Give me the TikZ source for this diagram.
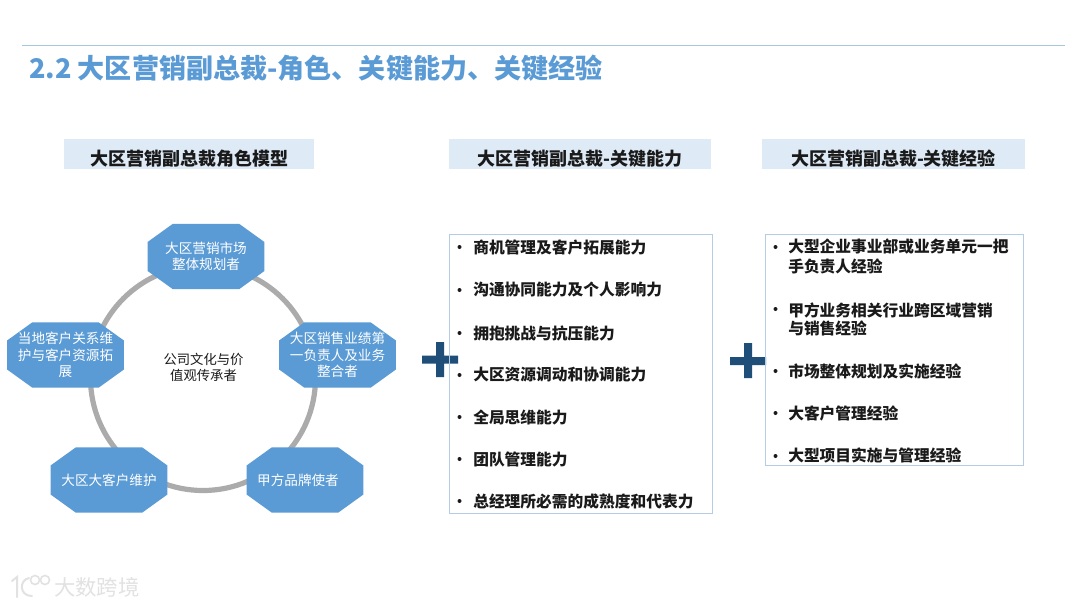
\documentclass[tikz,border=0pt]{standalone}
\usepackage{fontspec}
\setmainfont{Noto Sans CJK SC}
\makeatletter
\pgfdeclareshape{octbox}{
 \inheritsavedanchors[from=rectangle]
 \inheritanchorborder[from=rectangle]
 \inheritanchor[from=rectangle]{center}
 \inheritanchor[from=rectangle]{north}
 \inheritanchor[from=rectangle]{south}
 \inheritanchor[from=rectangle]{east}
 \inheritanchor[from=rectangle]{west}
 \backgroundpath{
  \southwest \pgf@xa=\pgf@x \pgf@ya=\pgf@y
  \northeast \pgf@xb=\pgf@x \pgf@yb=\pgf@y
  \pgf@xc=18.75pt \pgf@yc=13.5pt
  \pgfpathmoveto{\pgfqpoint{\pgf@xa}{\dimexpr\pgf@ya+\pgf@yc\relax}}
  \pgfpathlineto{\pgfqpoint{\pgf@xa}{\dimexpr\pgf@yb-\pgf@yc\relax}}
  \pgfpathlineto{\pgfqpoint{\dimexpr\pgf@xa+\pgf@xc\relax}{\pgf@yb}}
  \pgfpathlineto{\pgfqpoint{\dimexpr\pgf@xb-\pgf@xc\relax}{\pgf@yb}}
  \pgfpathlineto{\pgfqpoint{\pgf@xb}{\dimexpr\pgf@yb-\pgf@yc\relax}}
  \pgfpathlineto{\pgfqpoint{\pgf@xb}{\dimexpr\pgf@ya+\pgf@yc\relax}}
  \pgfpathlineto{\pgfqpoint{\dimexpr\pgf@xb-\pgf@xc\relax}{\pgf@ya}}
  \pgfpathlineto{\pgfqpoint{\dimexpr\pgf@xa+\pgf@xc\relax}{\pgf@ya}}
  \pgfpathclose
 }
}
\makeatother
\definecolor{oct}{HTML}{5B9BD5}
\definecolor{ttl}{HTML}{5B9BD5}
\definecolor{hd}{HTML}{DEEAF6}
\definecolor{bx}{HTML}{B4CDE4}
\definecolor{rule}{HTML}{A3C8DC}
\definecolor{ring}{HTML}{ABABAB}
\definecolor{pls}{HTML}{1F4E79}
\definecolor{txt}{HTML}{1A1A1A}
\definecolor{wm}{HTML}{E2E2E2}
\tikzset{
 px/.style={x=0.75pt,y=-0.75pt},
 octa/.style={shape=octbox,fill=oct,minimum width=87pt,minimum height=48.5pt,inner sep=0pt,text width=76pt,align=center,text=white,font=\fontsize{10.2}{12.2}\selectfont},
 head/.style={fill=hd,minimum height=22.5pt,inner sep=0pt,anchor=center},
 headtext/.style={inner sep=0pt,text=txt,yshift=-3.4pt,font=\fontsize{13.5}{16}\selectfont\bfseries},
 item/.style={anchor=west,inner sep=0pt,font=\fontsize{11.8}{14}\selectfont\bfseries,text=txt},
 bul/.style={circle,fill=txt,inner sep=0pt,minimum size=3pt},
 panel/.style={draw=bx,line width=0.75pt,fill=none,inner sep=0pt},
 plusmark/.style={fill=pls},
}
\begin{document}
\begin{tikzpicture}[px]
\useasboundingbox (0,0) rectangle (1080,607);
\fill[white] (0,0) rectangle (1080,607);
\draw[rule,line width=0.75pt] (22,45) -- (1065,45);
\node[anchor=west,inner sep=0pt,text=ttl,font=\fontsize{20.3}{24}\selectfont\bfseries] (title) at (29,68) {2.2 大区营销副总裁-角色、关键能力、关键经验};
\node[head,minimum width=187.5pt,label={[headtext]center:大区营销副总裁角色模型}] (h1) at (189,154) {};
\node[head,minimum width=196.5pt,label={[headtext]center:大区营销副总裁-关键能力}] (h2) at (580,154) {};
\node[head,minimum width=197.25pt,label={[headtext]center:大区营销副总裁-关键经验}] (h3) at (893.5,154) {};
% ring
\node[circle,draw=ring,line width=3.9pt,minimum size=168.75pt,inner sep=0pt] (ringc) at (203,378) {};
\node[octa] (o1) at (206,256.5) {大区营销市场\\整体规划者};
\node[octa] (o2) at (337.5,355) {大区销售业绩第\\一负责人及业务\\整合者};
\node[octa] (o3) at (305,480) {\hspace*{-10.5pt}甲方品牌使者};
\node[octa] (o4) at (109,480) {大区大客户维护};
\node[octa] (o5) at (65.5,355) {当地客户关系维\\护与客户资源拓\\展};
\node[align=center,inner sep=0pt,text=txt,font=\fontsize{10}{12.2}\selectfont] (c) at (203.5,367.5) {公司文化与价\\值观传承者};
% plus signs
\fill[plusmark] (422,355.5) rectangle (458,363.5) (436,342) rectangle (444,377);
\fill[plusmark] (730,357) rectangle (766,365) (744,343) rectangle (752,378);
% left panel
\draw[panel] (449,234.5) rectangle (712,513.5);
\foreach \y/\t in {247/商机管理及客户拓展能力,290/沟通协同能力及个人影响力,333/拥抱挑战与抗压能力,375/大区资源调动和协调能力,417/全局思维能力,459/团队管理能力,501/总经理所必需的成熟度和代表力}{
 \node[bul] at (459.5,\y) {};
 \node[item] at (473,\y) {\t};
}
% right panel
\draw[panel] (765,234.5) rectangle (1023.5,465.5);
\foreach \y/\t in {247/大型企业事业部或业务单元一把,266/手负责人经验,310/甲方业务相关行业跨区域营销,328/与销售经验,371/市场整体规划及实施经验,413/大客户管理经验,455/大型项目实施与管理经验}{
 \node[item] at (788,\y) {\t};
}
\foreach \y in {247,309,371,413,456}{
 \node[bul] at (775.5,\y) {};
}
% watermark
\node[anchor=west,inner sep=0pt,text=wm,font=\fontsize{16}{18}\selectfont] (wmk) at (54,587) {大数跨境};
\draw[wm,line width=1.5pt,line cap=round] (12,581) -- (17,577) -- (17,597);
\draw[wm,line width=1.5pt,line cap=round] (29,578) .. controls (19,580) and (19,596) .. (32,596);
\draw[wm,line width=1.2pt] (35,580) circle (4.5) (45,580) circle (4.5);
\end{tikzpicture}
\end{document}
